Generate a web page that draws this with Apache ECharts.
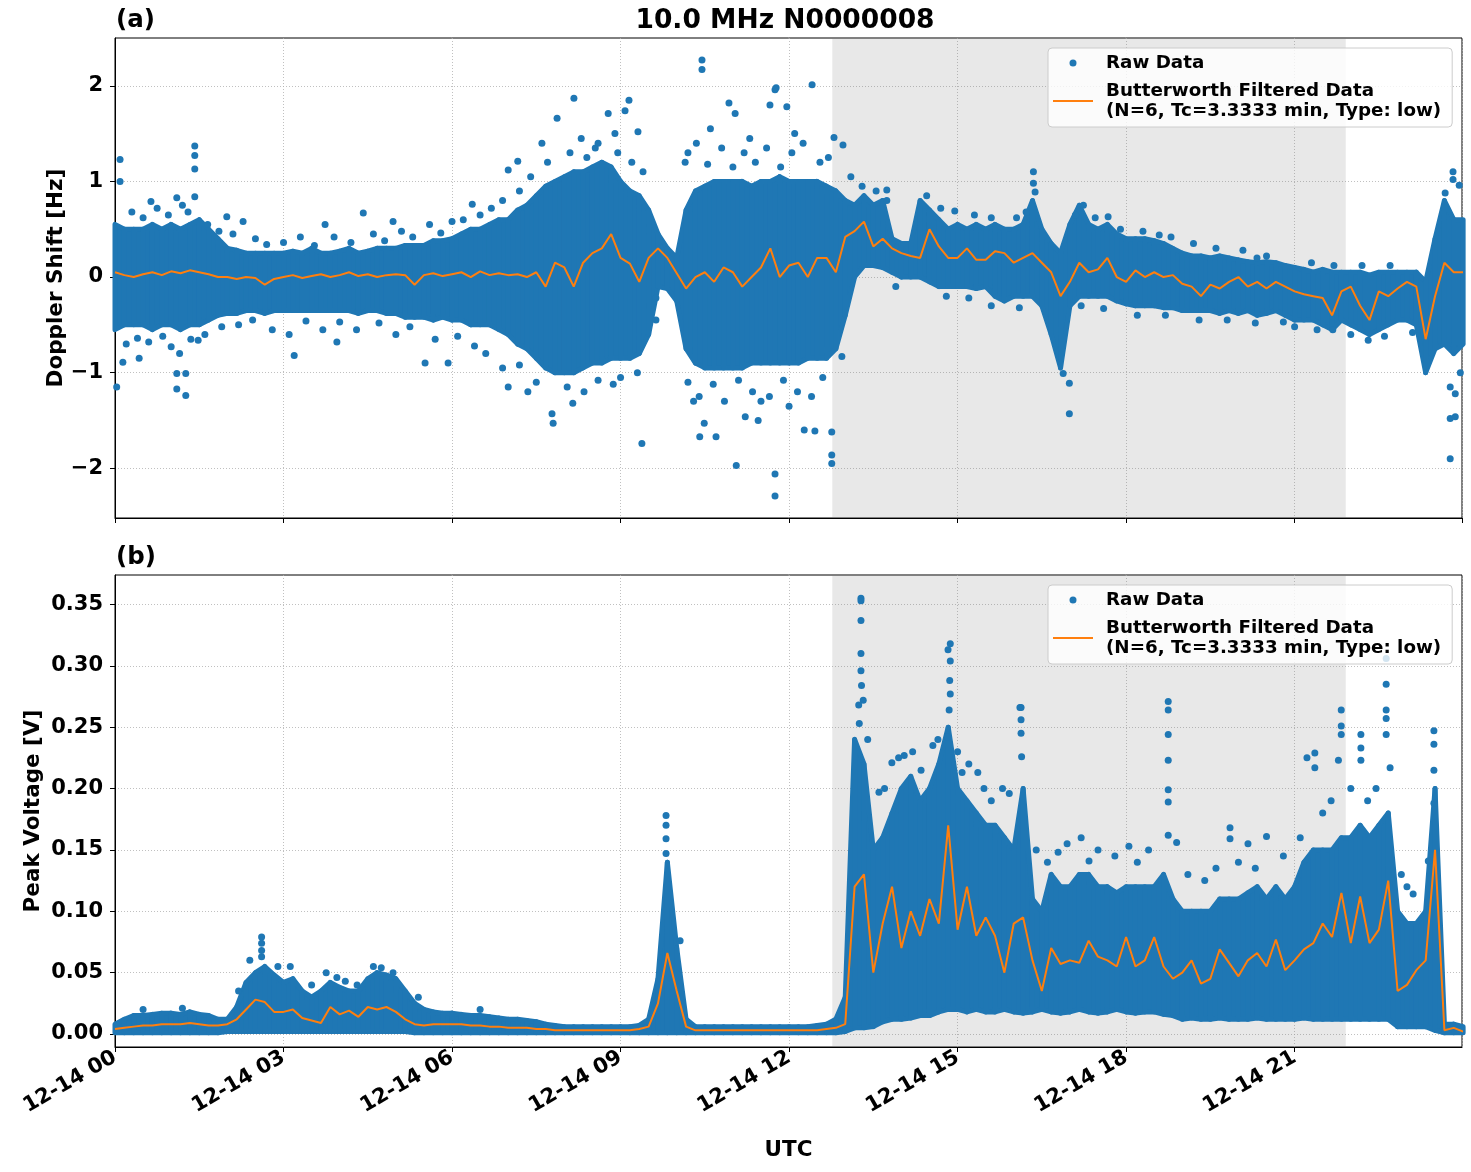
<!DOCTYPE html>
<html><head><meta charset="utf-8">
<script src="https://cdn.jsdelivr.net/npm/echarts@6/dist/echarts.min.js"></script>
<style>html,body{margin:0;padding:0;background:#fff}#c{width:1471px;height:1172px}</style>
</head><body><div id="c"></div>
<script>
// ---------------- data (hours UTC on 2021-12-14, 10-minute sampling grid) ----------------
const dayLabel = '12-14';
const xTickHours = [0, 3, 6, 9, 12, 15, 18, 21];
const yTicksA = [-2, -1, 0, 1, 2];
const yTicksB = [0, 0.05, 0.1, 0.15, 0.2, 0.25, 0.3, 0.35];
const shadeStart = 12.77, shadeEnd = 21.91;

// (a) Doppler shift: dense raw-data cloud upper / lower edges, and filtered line [Hz]
const rawHighA = [
 0.55,0.5,0.5,0.5,0.55,0.5,   0.55,0.5,0.55,0.6,0.5,0.4,   0.3,0.28,0.25,0.25,0.25,0.25,
 0.25,0.27,0.25,0.3,0.25,0.25, 0.27,0.3,0.25,0.27,0.3,0.3,  0.3,0.33,0.33,0.33,0.38,0.38,
 0.4,0.45,0.5,0.5,0.55,0.6,   0.6,0.7,0.75,0.85,0.95,1.0,  1.05,1.1,1.1,1.15,1.2,1.15,
 1.0,0.9,0.85,0.7,0.45,0.3,   0.2,0.7,0.9,0.95,1.0,1.0,    1.0,1.0,0.95,1.0,1.0,1.05,
 1.0,1.0,1.0,1.0,0.95,0.9,    0.8,0.75,0.85,0.75,0.8,0.4,  0.35,0.35,0.8,0.7,0.6,0.5,
 0.55,0.5,0.55,0.5,0.55,0.5,  0.5,0.55,0.8,0.5,0.35,0.25,  0.55,0.75,0.55,0.5,0.55,0.45,
 0.4,0.4,0.4,0.38,0.35,0.3,   0.25,0.22,0.22,0.2,0.22,0.2, 0.18,0.16,0.15,0.16,0.15,0.12,
 0.1,0.08,0.05,0.08,0.05,0.05, 0.05,0.05,0.02,0.05,0.05,0.05, 0.05,0.05,-0.05,0.4,0.8,0.6,
 0.6];
const rawLowA = [
 -0.55,-0.5,-0.5,-0.5,-0.55,-0.5, -0.5,-0.55,-0.5,-0.5,-0.45,-0.4, -0.38,-0.38,-0.35,-0.35,-0.38,-0.35,
 -0.35,-0.35,-0.35,-0.35,-0.35,-0.35, -0.35,-0.35,-0.38,-0.35,-0.35,-0.38, -0.38,-0.42,-0.42,-0.42,-0.45,-0.42,
 -0.45,-0.45,-0.5,-0.5,-0.5,-0.55, -0.6,-0.7,-0.75,-0.85,-0.95,-1.0, -1.0,-1.0,-0.95,-0.9,-0.9,-0.85,
 -0.85,-0.85,-0.8,-0.6,-0.1,-0.12, -0.25,-0.75,-0.9,-0.95,-0.95,-0.95, -0.95,-0.95,-0.9,-0.9,-0.9,-0.9,
 -0.9,-0.9,-0.85,-0.85,-0.85,-0.75, -0.4,0.0,0.12,0.12,0.1,0.05, 0.0,0.0,0.0,-0.05,-0.1,-0.1,
 -0.1,-0.1,-0.12,-0.1,-0.2,-0.25, -0.2,-0.2,-0.2,-0.3,-0.6,-0.95, -0.3,-0.2,-0.2,-0.2,-0.2,-0.25,
 -0.28,-0.3,-0.3,-0.3,-0.32,-0.32, -0.35,-0.35,-0.35,-0.35,-0.38,-0.35, -0.38,-0.35,-0.4,-0.38,-0.35,-0.4,
 -0.45,-0.45,-0.45,-0.5,-0.55,-0.45, -0.5,-0.55,-0.6,-0.55,-0.5,-0.45, -0.45,-0.5,-1.0,-0.75,-0.7,-0.8,
 -0.7];
const filtA = [
 0.05,0.02,0.0,0.03,0.05,0.02,  0.06,0.04,0.07,0.05,0.03,0.0,  0.0,-0.02,0.0,-0.01,-0.08,-0.02,
 0.0,0.02,-0.01,0.01,0.03,0.0,  0.02,0.05,0.01,0.03,0.0,0.02,  0.03,0.02,-0.08,0.02,0.04,0.01,
 0.03,0.05,0.0,0.06,0.02,0.04,  0.02,0.03,0.0,0.05,-0.1,0.15,  0.1,-0.1,0.15,0.25,0.3,0.45,
 0.2,0.14,-0.05,0.2,0.3,0.2,    0.04,-0.12,0.0,0.05,-0.05,0.1, 0.05,-0.1,0.0,0.1,0.3,0.0,
 0.12,0.15,0.0,0.2,0.2,0.05,    0.42,0.48,0.58,0.32,0.4,0.3,  0.25,0.22,0.2,0.5,0.32,0.2,
 0.2,0.3,0.18,0.18,0.27,0.25,   0.15,0.2,0.25,0.15,0.05,-0.2, -0.05,0.15,0.05,0.08,0.2,0.0,
 -0.05,0.07,0.0,0.05,0.0,0.02,  -0.07,-0.1,-0.2,-0.08,-0.12,-0.05, 0.0,-0.1,-0.05,-0.12,-0.05,-0.1,
 -0.15,-0.18,-0.2,-0.22,-0.4,-0.15, -0.1,-0.3,-0.45,-0.15,-0.2,-0.12, -0.05,-0.1,-0.65,-0.2,0.15,0.05,
 0.05];
// (a) isolated raw points outside the dense cloud: [hour, Hz]
const outlierA = [
 [0.09,1.23],[0.09,1.0],[0.03,-1.15],[1.42,1.37],[1.42,1.27],[1.42,1.13],[1.42,0.84],[1.1,0.83],
 [1.26,-1.24],[1.1,-1.17],[1.1,-1.01],[1.26,-1.01],[1.0,-0.73],[0.14,-0.89],[0.43,-0.85],[0.64,0.79],
 [3.19,-0.82],[4.42,0.67],[3.74,0.55],[5.52,-0.9],[5.93,-0.9],[7.0,-1.15],[7.35,-1.2],[7.78,-1.43],
 [7.8,-1.53],[7.87,1.66],[7.6,1.4],[7.17,1.21],[7.0,1.12],[6.36,0.76],[6.0,0.58],[4.95,0.58],
 [2.28,0.58],[1.99,0.63],[1.48,-0.66],[3.95,-0.68],
 [8.17,1.87],[8.78,1.71],[9.08,1.74],[9.15,1.85],[9.31,1.52],[10.45,2.27],[10.45,2.17],[10.93,1.82],
 [11.04,1.71],[11.66,1.8],[11.75,1.96],[11.77,1.98],[11.96,1.78],[12.41,2.01],[12.8,1.46],[12.96,1.38],
 [13.1,1.05],[9.38,-1.74],[8.87,-1.12],[8.15,-1.32],[10.41,-1.67],[10.7,-1.67],[11.06,-1.97],[11.75,-2.06],
 [11.75,-2.29],[12.76,-1.86],[12.76,-1.95],[12.76,-1.62],[12.46,-1.61],[12.27,-1.6],[11.45,-1.5],[11.22,-1.46],
 [10.49,-1.53],[9.63,-0.45],[9.63,-0.22],[14.95,0.69],[13.74,0.91],[13.74,0.8],[12.94,-0.83],
 [8.3,1.45],[8.55,1.35],[8.9,1.5],[10.2,1.3],[10.6,1.55],[11.3,1.45],[12.1,1.5],[10.3,-1.3],[11.5,-1.3],[12.0,-1.35],
 [16.35,1.1],[16.35,0.98],[16.38,0.89],[16.22,0.68],[17.24,0.75],[17.68,0.63],[18.59,0.44],[20.08,0.28],
 [20.33,0.2],[16.99,-1.43],[16.99,-1.11],[16.88,-1.01],[23.82,1.1],[23.82,1.02],[23.68,0.88],[23.93,0.96],
 [23.77,-1.48],[23.86,-1.46],[23.77,-1.9],[23.77,-1.15],[23.86,-1.22],[23.95,-1.0],[21.0,-0.52],[21.68,-0.55],
 [22.31,-0.66]];
// (a) scattered raw points just outside the dense cloud edge: [hour, Hz]
const edgeA = [
 [0.3,0.68],[0.5,0.62],[0.75,0.72],[0.95,0.65],[1.2,0.75],[1.3,0.68],[1.65,0.55],[1.85,0.48],[2.1,0.45],
 [2.5,0.4],[2.7,0.34],[3.0,0.36],[3.3,0.42],[3.55,0.33],[3.9,0.42],[4.2,0.36],[4.6,0.45],[4.8,0.38],
 [5.1,0.48],[5.3,0.42],[5.6,0.55],[5.8,0.46],[6.2,0.6],[6.5,0.65],[6.7,0.72],[6.9,0.8],[7.2,0.9],[7.4,1.05],[7.7,1.2],
 [0.2,-0.7],[0.4,-0.64],[0.6,-0.68],[0.85,-0.62],[1.15,-0.8],[1.35,-0.65],[1.6,-0.6],[1.9,-0.52],[2.2,-0.5],
 [2.45,-0.45],[2.8,-0.55],[3.1,-0.6],[3.4,-0.46],[3.7,-0.55],[4.0,-0.47],[4.3,-0.55],[4.7,-0.48],[5.0,-0.6],
 [5.25,-0.52],[5.7,-0.65],[6.1,-0.62],[6.4,-0.72],[6.6,-0.8],[6.9,-0.95],[7.2,-0.92],[7.5,-1.1],
 [8.1,1.3],[8.4,1.25],[8.6,1.4],[8.95,1.3],[9.2,1.2],[9.4,1.1],[10.15,1.2],[10.35,1.4],[10.55,1.18],
 [10.8,1.35],[11.0,1.15],[11.2,1.3],[11.4,1.2],[11.6,1.35],[11.85,1.15],[12.05,1.3],[12.25,1.4],[12.55,1.2],[12.7,1.25],
 [8.05,-1.15],[8.35,-1.2],[8.6,-1.08],[9.0,-1.05],[9.3,-1.0],[10.2,-1.1],[10.4,-1.25],[10.65,-1.12],[10.85,-1.3],
 [11.1,-1.08],[11.35,-1.2],[11.65,-1.25],[11.9,-1.08],[12.15,-1.2],[12.4,-1.25],[12.6,-1.05],
 [13.3,0.95],[13.55,0.9],[14.45,0.85],[14.7,0.72],[15.3,0.65],[15.6,0.62],[16.05,0.62],[17.1,0.65],[17.45,0.62],
 [17.9,0.5],[18.3,0.48],[18.8,0.42],[19.2,0.35],[19.6,0.3],[20.5,0.22],[21.3,0.15],[21.7,0.12],[22.2,0.12],[22.7,0.12],
 [13.9,-0.1],[14.8,-0.2],[15.2,-0.22],[15.6,-0.3],[16.1,-0.32],[17.2,-0.3],[17.6,-0.33],[18.2,-0.4],[18.7,-0.4],
 [19.3,-0.45],[19.8,-0.45],[20.3,-0.48],[20.8,-0.47],[21.4,-0.55],[22.0,-0.6],[22.6,-0.62],[23.1,-0.58]];

// (b) Peak voltage: dense raw-data cloud upper / lower edges, and filtered line [V]
const rawHighB = [
 0.008,0.012,0.015,0.015,0.016,0.017, 0.017,0.016,0.018,0.016,0.015,0.012, 0.012,0.022,0.042,0.05,0.055,0.048,
 0.042,0.045,0.035,0.03,0.035,0.042,  0.038,0.035,0.035,0.045,0.05,0.048,  0.045,0.035,0.025,0.02,0.018,0.017,
 0.017,0.016,0.015,0.015,0.014,0.013, 0.012,0.012,0.011,0.01,0.008,0.007,  0.006,0.006,0.006,0.006,0.006,0.006,
 0.006,0.006,0.007,0.012,0.045,0.14,  0.07,0.012,0.006,0.006,0.006,0.006,  0.006,0.006,0.006,0.006,0.006,0.006,
 0.006,0.006,0.006,0.007,0.008,0.012, 0.03,0.24,0.22,0.15,0.16,0.18,       0.2,0.21,0.19,0.2,0.22,0.25,
 0.2,0.19,0.18,0.17,0.17,0.16,        0.15,0.2,0.11,0.1,0.13,0.12,         0.12,0.13,0.13,0.12,0.12,0.115,
 0.12,0.12,0.12,0.12,0.13,0.11,       0.1,0.1,0.1,0.1,0.11,0.11,           0.11,0.115,0.12,0.11,0.12,0.11,
 0.12,0.14,0.15,0.15,0.15,0.16,       0.16,0.17,0.16,0.17,0.18,0.1,        0.09,0.09,0.1,0.2,0.008,0.008,
 0.006];
const rawLowB = [
 0.001,0.001,0.001,0.001,0.001,0.001, 0.001,0.001,0.001,0.001,0.001,0.001, 0.002,0.002,0.002,0.002,0.002,0.002,
 0.002,0.002,0.002,0.002,0.002,0.002, 0.002,0.002,0.002,0.002,0.002,0.002, 0.002,0.002,0.001,0.001,0.001,0.001,
 0.001,0.001,0.001,0.001,0.001,0.001, 0.001,0.001,0.001,0.001,0.001,0.001, 0.001,0.001,0.001,0.001,0.001,0.001,
 0.001,0.001,0.001,0.001,0.001,0.001, 0.001,0.001,0.001,0.001,0.001,0.001, 0.001,0.001,0.001,0.001,0.001,0.001,
 0.001,0.001,0.001,0.001,0.001,0.001, 0.002,0.005,0.005,0.006,0.01,0.012,  0.012,0.013,0.015,0.015,0.018,0.02,
 0.02,0.018,0.02,0.018,0.018,0.02,    0.018,0.017,0.018,0.02,0.018,0.017,  0.018,0.02,0.018,0.017,0.018,0.02,
 0.018,0.017,0.018,0.018,0.016,0.015, 0.012,0.013,0.012,0.012,0.013,0.012, 0.012,0.012,0.013,0.012,0.012,0.012,
 0.012,0.013,0.012,0.012,0.012,0.012, 0.012,0.012,0.012,0.012,0.012,0.006, 0.006,0.006,0.006,0.003,0.001,0.001,
 0.001];
const filtB = [
 0.004,0.005,0.006,0.007,0.007,0.008, 0.008,0.008,0.009,0.008,0.007,0.007, 0.008,0.012,0.02,0.028,0.026,0.018,
 0.018,0.02,0.013,0.011,0.009,0.022,  0.016,0.019,0.014,0.022,0.02,0.022,  0.018,0.012,0.008,0.007,0.008,0.008,
 0.008,0.008,0.007,0.007,0.006,0.006, 0.005,0.005,0.005,0.004,0.004,0.003, 0.003,0.003,0.003,0.003,0.003,0.003,
 0.003,0.003,0.004,0.006,0.025,0.066, 0.035,0.006,0.003,0.003,0.003,0.003, 0.003,0.003,0.003,0.003,0.003,0.003,
 0.003,0.003,0.003,0.003,0.004,0.005, 0.008,0.12,0.13,0.05,0.09,0.12,     0.07,0.1,0.08,0.11,0.09,0.17,
 0.085,0.12,0.08,0.095,0.08,0.05,     0.09,0.095,0.06,0.035,0.07,0.057,    0.06,0.058,0.076,0.063,0.06,0.055,
 0.079,0.055,0.06,0.079,0.055,0.045,  0.05,0.06,0.041,0.045,0.069,0.058,   0.047,0.06,0.066,0.055,0.077,0.052,
 0.06,0.069,0.074,0.09,0.079,0.115,   0.074,0.112,0.074,0.085,0.125,0.035, 0.04,0.052,0.06,0.15,0.003,0.005,
 0.002];
// (b) isolated raw points above the dense cloud: [hour, V]
const outlierB = [
 [2.61,0.079],[2.61,0.074],[2.61,0.068],[2.61,0.063],[2.4,0.06],[3.12,0.055],[3.76,0.05],[3.95,0.046],
 [4.31,0.04],[4.74,0.054],[4.95,0.05],
 [9.81,0.178],[9.81,0.17],[9.81,0.159],[9.81,0.147],[10.06,0.076],
 [13.28,0.355],[13.28,0.353],[13.28,0.337],[13.28,0.31],[13.28,0.296],[13.29,0.284],[13.32,0.272],[13.24,0.268],
 [13.25,0.253],[14.87,0.318],[14.83,0.313],[14.87,0.304],[14.86,0.288],[14.87,0.277],[14.85,0.264],[14.82,0.242],
 [15.0,0.23],[15.08,0.213],[15.36,0.213],[15.47,0.2],[14.05,0.227],[13.83,0.221],[13.6,0.197],[14.56,0.235],
 [15.92,0.196],[16.11,0.266],
 [16.13,0.266],[16.13,0.256],[16.13,0.245],[16.14,0.226],[16.79,0.148],[17.34,0.141],[18.05,0.153],[18.75,0.271],
 [18.75,0.264],[18.75,0.244],[18.75,0.223],[18.75,0.199],[18.75,0.189],[18.75,0.162],[18.9,0.156],[19.85,0.168],
 [19.85,0.159],[20.5,0.161],[20.17,0.155],[21.22,0.225],[21.36,0.229],[21.36,0.217],[21.83,0.264],[21.83,0.251],
 [21.83,0.244],[21.78,0.223],[22.18,0.244],[22.18,0.233],[22.18,0.223],[22.63,0.285],[22.63,0.264],[22.63,0.257],
 [22.63,0.244],[22.63,0.306],[22.7,0.217],[23.48,0.247],[23.48,0.236],[23.48,0.215],[23.48,0.188],[23.11,0.114],
 [23.38,0.141]];
// (b) scattered raw points just above the dense cloud edge: [hour, V]
const edgeB = [
 [0.5,0.02],[1.2,0.021],[2.2,0.035],[2.9,0.055],[3.5,0.04],[4.1,0.043],[4.6,0.055],[5.4,0.03],[6.5,0.02],
 [13.4,0.24],[13.7,0.2],[13.95,0.225],[14.2,0.23],[14.35,0.215],[14.65,0.24],[15.2,0.22],[15.6,0.19],[15.8,0.2],
 [16.4,0.15],[16.6,0.14],[16.95,0.155],[17.2,0.16],[17.5,0.15],[17.8,0.145],[18.2,0.14],[18.4,0.15],[19.1,0.13],
 [19.4,0.125],[19.6,0.135],[20.0,0.14],[20.3,0.135],[20.8,0.145],[21.1,0.16],[21.5,0.18],[21.65,0.19],[22.0,0.2],
 [22.3,0.19],[22.45,0.2],[22.9,0.13],[23.0,0.12]];

// ---------------- chart ----------------
const stepHours = 1 / 6;  // 10-minute grid
const pair = arr => arr.map((v, i) => [i * stepHours, v]);

const FONT = 'DejaVu Sans';
const BLUE = '#1f77b4', ORANGE = '#ff7f0e';
const FILT_NAME = 'Butterworth Filtered Data';
const FILT_PARAMS = '(N=6, Tc=3.3333 min, Type: low)';
const gridLine = { show: true, lineStyle: { color: '#b0b0b0', width: 0.8, type: [1, 2] } };
const tickStyle = { show: true, length: 5, lineStyle: { color: '#000', width: 1 } };
const labelFont = { fontFamily: FONT, fontWeight: 'bold', fontSize: 21, color: '#000' };
const nameFont = { fontFamily: FONT, fontWeight: 'bold', fontSize: 21.5, color: '#000' };

function xAxisFor(gi, showLabels) {
  return {
    type: 'value', gridIndex: gi, min: 0, max: 23.98, interval: 3,
    axisLine: { show: true, onZero: false, lineStyle: { color: '#000', width: 1 } },
    axisTick: tickStyle, splitLine: gridLine,
    axisLabel: showLabels ? Object.assign({
      rotate: 30, margin: 9, showMaxLabel: false,
      formatter: v => dayLabel + ' ' + String(v).padStart(2, '0')
    }, labelFont) : { show: false },
    name: showLabels ? 'UTC' : '', nameLocation: 'middle', nameGap: 92, nameMoveOverlap: false,
    nameTextStyle: nameFont
  };
}
function legendFor(top) {
  return {
    orient: 'vertical', left: 1048, top: top, padding: [5, 11, 6, 5], itemGap: 8,
    itemWidth: 48, itemHeight: 14,
    backgroundColor: 'rgba(255,255,255,0.8)', borderColor: '#cccccc', borderWidth: 1, borderRadius: 4,
    textStyle: { fontFamily: FONT, fontWeight: 'bold', fontSize: 18.3, lineHeight: 20, color: '#000' },
    formatter: n => n === FILT_NAME ? n + '\n' + FILT_PARAMS : n,
    data: [
      { name: 'Raw Data', icon: 'path://M0,0M48,14M16.5,7a3.5,3.5 0 1,0 7,0a3.5,3.5 0 1,0 -7,0z' },
      { name: FILT_NAME, icon: 'path://M0,0M48,14M0,6h40v2h-40z' }
    ]
  };
}
function seriesFor(idx, hi, lo, filt, outl, edge) {
  return [
    { name: 'observation window', type: 'line', xAxisIndex: idx, yAxisIndex: idx, z: 1,
      data: [], silent: true,
      markArea: { silent: true, itemStyle: { color: 'rgba(128,128,128,0.18)' },
        data: [[{ xAxis: shadeStart }, { xAxis: shadeEnd }]] } },
    { name: 'Raw Data (cloud)', type: 'custom', xAxisIndex: idx, yAxisIndex: idx, z: 2, silent: true,
      data: hi.map((v, i) => [i * stepHours, lo[i], v]),
      encode: { x: 0, y: [1, 2] },
      renderItem: (params, api) => {
        const i = params.dataIndex;
        if (i >= hi.length - 1) return null;
        const t0 = i * stepHours, t1 = (i + 1) * stepHours;
        const pts = [api.coord([t0, lo[i]]), api.coord([t1, lo[i + 1]]),
                     api.coord([t1, hi[i + 1]]), api.coord([t0, hi[i]])];
        return { type: 'polygon', shape: { points: pts },
          style: { fill: BLUE, stroke: BLUE, lineWidth: 5, lineJoin: 'round' } };
      } },
    { name: 'Raw Data', type: 'scatter', xAxisIndex: idx, yAxisIndex: idx, z: 2,
      data: outl.concat(edge), symbolSize: 7, itemStyle: { color: BLUE, opacity: 1 } },
    { name: FILT_NAME, type: 'line', xAxisIndex: idx, yAxisIndex: idx, z: 3,
      data: pair(filt), symbol: 'none', lineStyle: { color: ORANGE, width: 2 },
      itemStyle: { color: ORANGE } }
  ];
}

const chart = echarts.init(document.getElementById('c'), null, { renderer: 'canvas' });
chart.setOption({
  animation: false,
  backgroundColor: '#ffffff',
  grid: [
    { left: 115, top: 38, width: 1347, height: 480, show: true, borderColor: '#000', borderWidth: 1, backgroundColor: 'transparent' },
    { left: 115, top: 575, width: 1347, height: 472, show: true, borderColor: '#000', borderWidth: 1, backgroundColor: 'transparent' }
  ],
  xAxis: [xAxisFor(0, false), xAxisFor(1, true)],
  yAxis: [
    { type: 'value', gridIndex: 0, min: -2.52, max: 2.5,
      axisLine: { show: true, lineStyle: { color: '#000' } },
      axisTick: Object.assign({ customValues: yTicksA }, tickStyle), splitLine: gridLine,
      axisLabel: Object.assign({ customValues: yTicksA, margin: 12,
        formatter: v => (v < 0 ? '\u2212' : '') + Math.abs(v) }, labelFont),
      name: 'Doppler Shift [Hz]', nameLocation: 'middle', nameRotate: 90, nameGap: 48, nameMoveOverlap: false,
      nameTextStyle: nameFont },
    { type: 'value', gridIndex: 1, min: -0.0106, max: 0.374,
      axisLine: { show: true, lineStyle: { color: '#000' } },
      axisTick: Object.assign({ customValues: yTicksB }, tickStyle), splitLine: gridLine,
      axisLabel: Object.assign({ customValues: yTicksB, margin: 12,
        formatter: v => v.toFixed(2) }, labelFont),
      name: 'Peak Voltage [V]', nameLocation: 'middle', nameRotate: 90, nameGap: 71, nameMoveOverlap: false,
      nameTextStyle: nameFont }
  ],
  legend: [legendFor(48), legendFor(585)],
  graphic: [
    { type: 'text', x: 116, y: 21, style: { text: '(a)', fontFamily: FONT, fontWeight: 'bold', fontSize: 24.5, fill: '#000', textVerticalAlign: 'middle' } },
    { type: 'text', x: 785, y: 21, style: { text: '10.0 MHz N0000008', fontFamily: FONT, fontWeight: 'bold', fontSize: 26.5, fill: '#000', textAlign: 'center', textVerticalAlign: 'middle' } },
    { type: 'text', x: 116, y: 558, style: { text: '(b)', fontFamily: FONT, fontWeight: 'bold', fontSize: 24.5, fill: '#000', textVerticalAlign: 'middle' } }
  ],
  series: [].concat(
    seriesFor(0, rawHighA, rawLowA, filtA, outlierA, edgeA),
    seriesFor(1, rawHighB, rawLowB, filtB, outlierB, edgeB)
  )
});
</script>
</body></html>
